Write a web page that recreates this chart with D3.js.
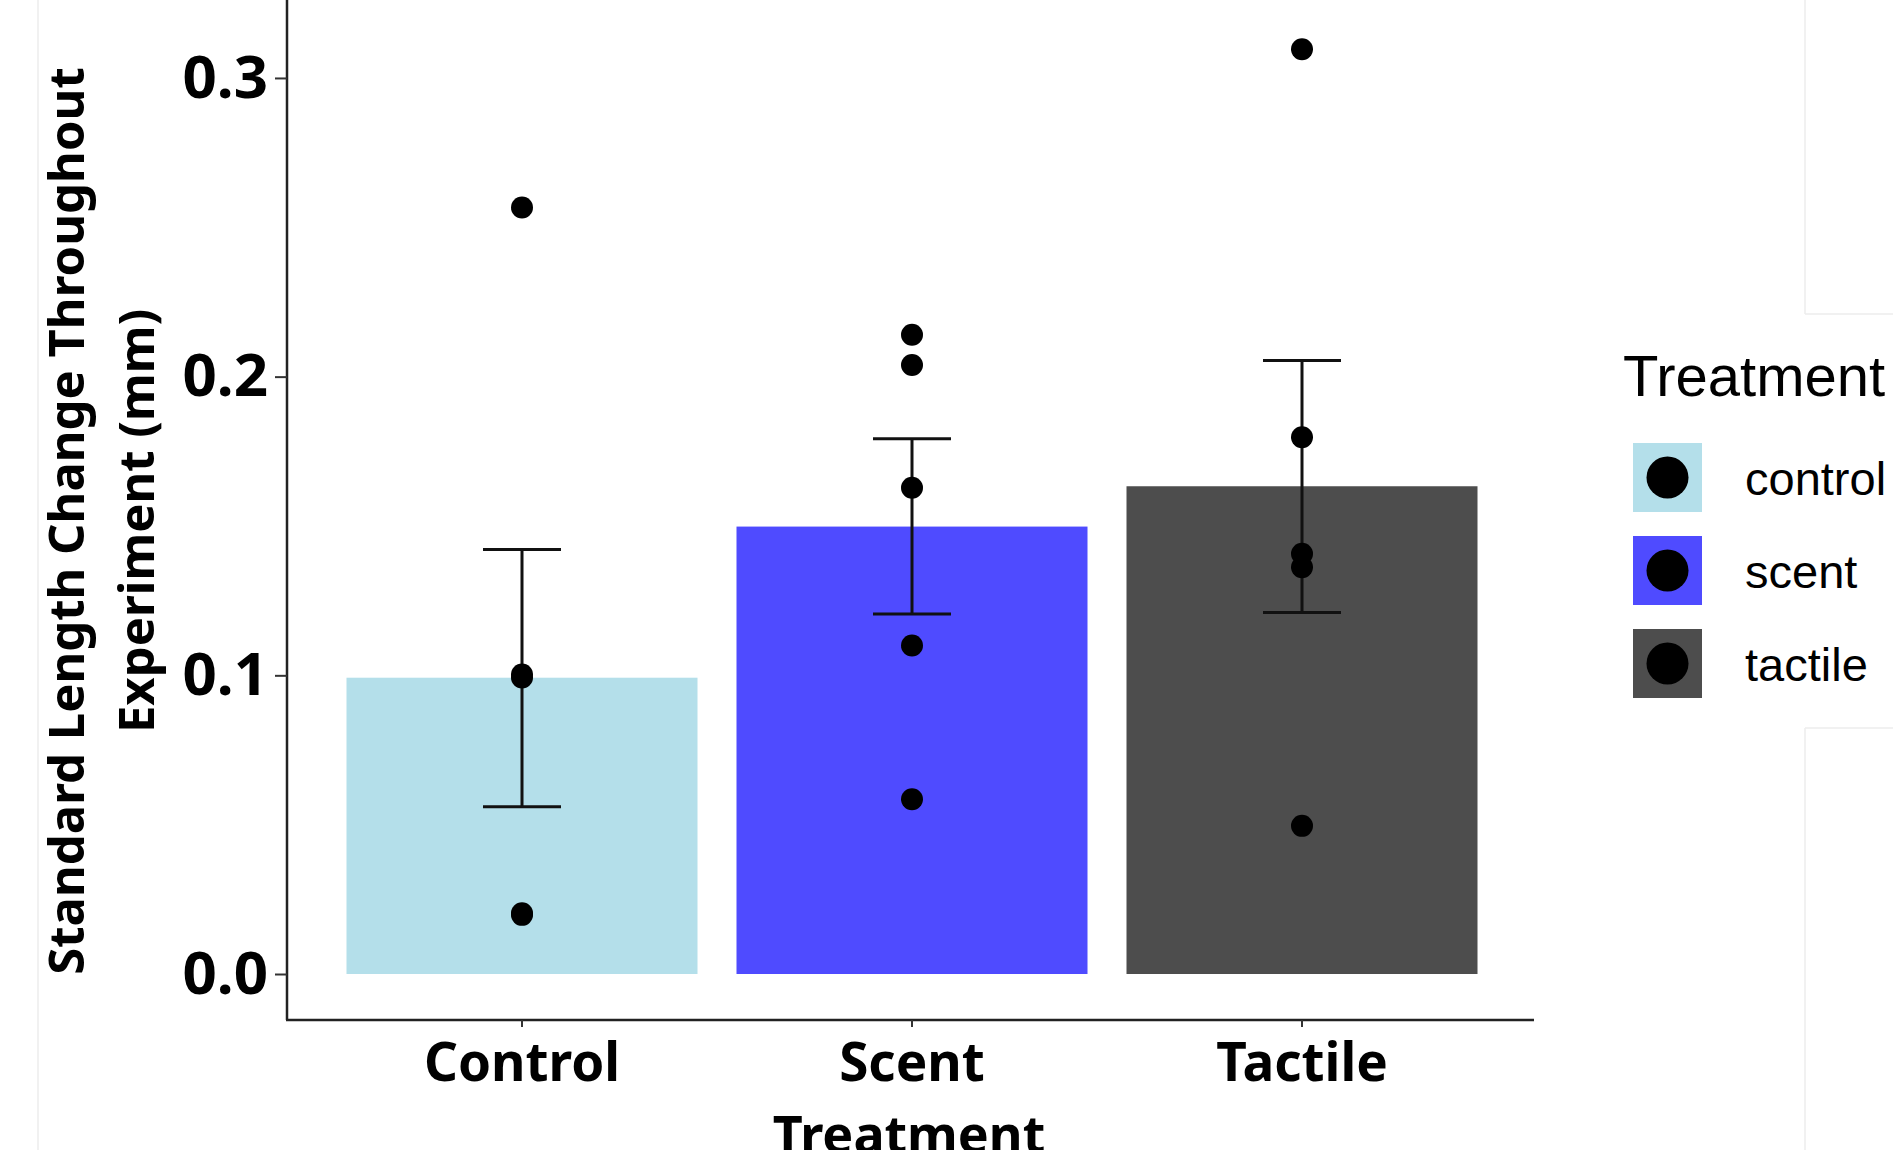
<!DOCTYPE html>
<html>
<head>
<meta charset="utf-8">
<script src="https://cdn.jsdelivr.net/npm/d3@7"></script>
<style>
body { margin: 0; background: #fff; }
svg { display: block; }
</style>
</head>
<body>
<svg id="chart" width="1893" height="1150"></svg>
<script>
// values
var categories = ["Control", "Scent", "Tactile"];
var groups = ["control", "scent", "tactile"];
var colors = ["#b4dfea", "#4f4bff", "#4d4d4d"];
var means = [0.0992, 0.1498, 0.1633];
var errLow = [0.0560, 0.1205, 0.1210];
var errHigh = [0.1421, 0.1792, 0.2054];
var pointsControl = [0.2566, 0.1003, 0.0993, 0.0203, 0.0198];
var pointsScent = [0.2140, 0.2039, 0.1628, 0.1100, 0.0585];
var pointsTactile = [0.3096, 0.1797, 0.1407, 0.1362, 0.0496];
var yTicks = [0.0, 0.1, 0.2, 0.3];

function draw_chart() {
    var svg = d3.select("#chart"),
        bold = "'Noto Sans', sans-serif";

    var x = d3.scaleBand().domain(categories).range([327, 1497]).paddingInner(0.1).paddingOuter(0.05),
        y = d3.scaleLinear().domain([-0.0154, 0.3261]).range([1020, 0]);

    // faint borders of the pasted image pieces
    var faint = svg.append("g").attr("stroke", "#ececec").attr("stroke-width", 1.5);
    faint.append("line").attr("x1", 38).attr("x2", 38).attr("y1", 0).attr("y2", 1150);
    faint.append("line").attr("x1", 1805).attr("x2", 1805).attr("y1", 0).attr("y2", 314);
    faint.append("line").attr("x1", 1805).attr("x2", 1805).attr("y1", 728).attr("y2", 1150);
    faint.append("line").attr("x1", 1805).attr("x2", 1893).attr("y1", 314).attr("y2", 314);
    faint.append("line").attr("x1", 1805).attr("x2", 1893).attr("y1", 728).attr("y2", 728);

    var rows = categories.map((c, i) => ({cat: c, mean: means[i], lo: errLow[i], hi: errHigh[i], color: colors[i]}));

    svg.append("g").selectAll("rect").data(rows).enter().append("rect")
        .attr("x", d => x(d.cat))
        .attr("y", d => y(d.mean))
        .attr("width", x.bandwidth())
        .attr("height", d => y(0) - y(d.mean))
        .attr("fill", d => d.color);

    // error bars
    var eb = svg.append("g").attr("stroke", "#111").attr("stroke-width", 3).attr("fill", "none");
    rows.forEach(d => {
        var cx = x(d.cat) + x.bandwidth() / 2, w = 39;
        eb.append("line").attr("x1", cx).attr("x2", cx).attr("y1", y(d.hi)).attr("y2", y(d.lo));
        eb.append("line").attr("x1", cx - w).attr("x2", cx + w).attr("y1", y(d.hi)).attr("y2", y(d.hi));
        eb.append("line").attr("x1", cx - w).attr("x2", cx + w).attr("y1", y(d.lo)).attr("y2", y(d.lo));
    });

    // points
    var pts = [];
    [pointsControl, pointsScent, pointsTactile].forEach((arr, i) => {
        arr.forEach(v => pts.push({cat: categories[i], v: v}));
    });
    svg.append("g").selectAll("circle").data(pts).enter().append("circle")
        .attr("cx", d => x(d.cat) + x.bandwidth() / 2)
        .attr("cy", d => y(d.v))
        .attr("r", 11)
        .attr("fill", "#000");

    // axes
    var yAxis = svg.append("g").attr("transform", "translate(287,0)")
        .call(d3.axisLeft(y).tickValues(yTicks).tickFormat(d3.format(".1f")).tickSize(12).tickPadding(7));
    yAxis.select(".domain").attr("stroke", "#222").attr("stroke-width", 2.5).attr("d", "M0,0V1020");
    yAxis.selectAll(".tick line").attr("stroke", "#333").attr("stroke-width", 2);
    yAxis.selectAll(".tick text").style("font-family", bold).style("font-weight", 700)
        .style("font-size", "60px").attr("fill", "#000");

    var xAxis = svg.append("g").attr("transform", "translate(0,1020)")
        .call(d3.axisBottom(x).tickSize(7).tickPadding(16));
    xAxis.select(".domain").attr("stroke", "#222").attr("stroke-width", 2.5).attr("d", "M286,0H1534");
    xAxis.selectAll(".tick line").attr("stroke", "#333").attr("stroke-width", 2);
    xAxis.selectAll(".tick text").style("font-family", bold).style("font-weight", 700)
        .style("font-size", "53px").attr("fill", "#000").attr("dy", "0.71em");

    // axis titles
    svg.append("text").attr("x", 909).attr("y", 1153).attr("text-anchor", "middle")
        .style("font-family", bold).style("font-weight", 700).style("font-size", "52px")
        .text("Treatment");

    var yt = svg.append("g").attr("transform", "rotate(-90)");
    yt.append("text").attr("x", -521).attr("y", 84).attr("text-anchor", "middle")
        .style("font-family", bold).style("font-weight", 700).style("font-size", "49px")
        .text("Standard Length Change Throughout");
    yt.append("text").attr("x", -521).attr("y", 154).attr("text-anchor", "middle")
        .style("font-family", bold).style("font-weight", 700).style("font-size", "49px")
        .text("Experiment (mm)");

    // legend
    var lg = svg.append("g");
    lg.append("text").attr("x", 1623).attr("y", 396)
        .style("font-family", "'Liberation Sans', Arial, sans-serif").style("font-size", "58px")
        .text("Treatment");
    var keys = lg.selectAll(".key").data(groups).enter().append("g")
        .attr("transform", (d, i) => "translate(1633," + (443 + i * 93) + ")");
    keys.append("rect").attr("width", 69).attr("height", 69).attr("fill", (d, i) => colors[i]);
    keys.append("circle").attr("cx", 34.5).attr("cy", 34.5).attr("r", 21).attr("fill", "#000");
    keys.append("text").attr("x", 112).attr("y", 52)
        .style("font-family", "'Liberation Sans', Arial, sans-serif").style("font-size", "47px")
        .text(d => d);
}

draw_chart();
</script>
</body>
</html>
